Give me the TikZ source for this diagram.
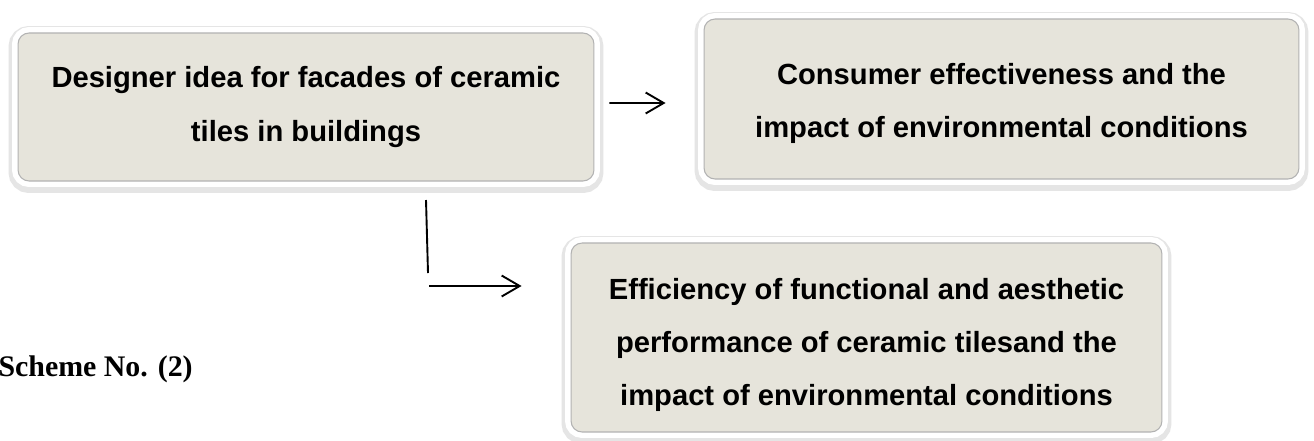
\documentclass[tikz,border=0pt]{standalone}
\usepackage{fontspec}
\setmainfont{Liberation Sans}
\newfontfamily\schemefont{Liberation Serif}
\usetikzlibrary{arrows.meta}
\definecolor{tilefill}{RGB}{230,228,219}
\begin{document}
\begin{tikzpicture}[x=0.02cm,y=-0.02cm,
  tile/.style={rectangle, rounded corners=0.22cm, fill=tilefill, draw=gray!60, line width=0.6pt,
    preaction={draw=black!10, line width=0.38cm, transform canvas={yshift=-0.05cm}},
    preaction={draw=white, line width=0.24cm},
    align=center, font=\fontsize{16.6}{30.2}\selectfont\bfseries, inner sep=0pt},
  conn/.style={line width=0.038cm, -{Straight Barb[length=0.36cm,width=0.42cm,line width=0.038cm]}},
  plainline/.style={line width=0.038cm}]
\useasboundingbox[fill=white] (0,0) rectangle (1314,440);
\node[tile, minimum width=11.52cm, minimum height=2.96cm] (b1) at (306,107)
  {Designer idea for facades of ceramic\\tiles in buildings};
\node[tile, minimum width=11.9cm, minimum height=3.2cm] (b2) at (1001.5,99)
  {\rule{0pt}{17.5pt}Consumer effectiveness and the\\impact of environmental conditions};
\node[tile, minimum width=11.82cm, minimum height=3.78cm] (b3) at (866.5,337.5)
  {\rule{0pt}{21pt}Efficiency of functional and aesthetic\\performance of ceramic tilesand the\\impact of environmental conditions};
\draw[conn, shorten <=0.3cm, shorten >=0.76cm] ([yshift=0.08cm]b1.east) -- ([yshift=-0.08cm]b2.west);
\coordinate (v1) at (426,200);
\coordinate (v2) at (428,273);
\coordinate (h1) at (429,286);
\draw[plainline] (v1) -- (v2);
\draw[conn, shorten >=0.98cm] (h1) -- (h1 -| b3.west);
\node[anchor=base east, inner sep=0pt, font=\schemefont\bfseries\fontsize{17}{20}\selectfont] (cap) at (193,376) {Scheme No. (2)};
\end{tikzpicture}
\end{document}
